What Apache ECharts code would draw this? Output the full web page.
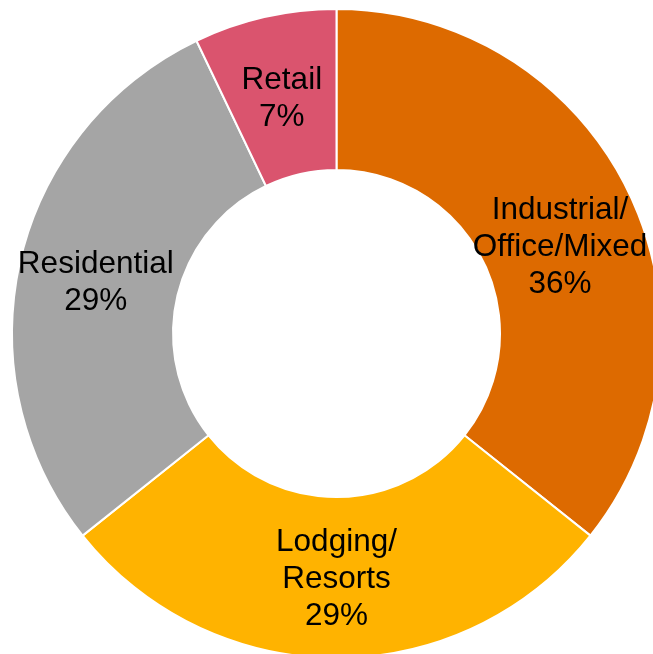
<!DOCTYPE html>
<html>
<head>
<meta charset="utf-8">
<script src="https://cdn.jsdelivr.net/npm/echarts@6/dist/echarts.min.js"></script>
<style>
    html, body { margin: 0; padding: 0; background: #fff; }
    #chart { width: 653px; height: 654px; }
</style>
</head>
<body>
<div id="chart"></div>
<script>
    // sector names (with line breaks as shown) and their shares
    var categories = ['Industrial/\nOffice/Mixed', 'Lodging/\nResorts', 'Residential', 'Retail'];
    var values = [35.7, 28.6, 28.6, 7.1];
    var colors = ['#DD6A00', '#FFB300', '#A5A5A5', '#DA546E'];
    // nudge labels to where the original puts them
    var labelOffsets = [[1, 21], [0, -1], [0, 5], [0, 6]];

    var total = values.reduce(function (a, b) { return a + b; }, 0);

    var myChart = echarts.init(document.getElementById('chart'));

    var dataList = categories.map(function (name, i) {
        return {
            name: name,
            value: values[i],
            itemStyle: {color: colors[i]},
            label: {offset: labelOffsets[i]}
        };
    });

    var option = {
        animation: false,
        series: [
            {
                type: 'pie',
                center: [336.5, 333.5],
                radius: [163.5, 324.5],
                startAngle: 90,
                clockwise: true,
                avoidLabelOverlap: false,
                itemStyle: {
                    borderColor: '#fff',
                    borderWidth: 2
                },
                label: {
                    show: true,
                    position: 'inside',
                    color: '#000',
                    fontFamily: 'Liberation Sans, Arial, sans-serif',
                    fontSize: 31.5,
                    lineHeight: 37,
                    align: 'center',
                    formatter: function (p) {
                        return p.name + '\n' + Math.round(p.value / total * 100) + '%';
                    }
                },
                labelLine: {show: false},
                emphasis: {disabled: true},
                data: dataList
            }
        ]
    };
    myChart.setOption(option);
</script>
</body>
</html>
